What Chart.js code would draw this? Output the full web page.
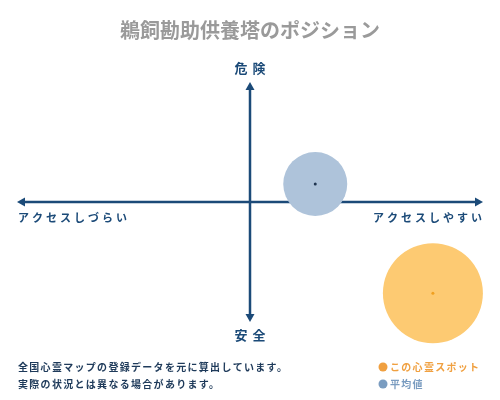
<!DOCTYPE html>
<html>
<head>
<meta charset="utf-8">
<script src="https://cdn.jsdelivr.net/npm/chart.js@4.4.0/dist/chart.umd.min.js"></script>
<style>
  html, body { margin: 0; padding: 0; background: #fff; }
  #wrap { width: 500px; height: 400px; position: relative; }
</style>
</head>
<body>
<div id="wrap"><canvas id="position"></canvas></div>
<script>
const titleText = "鵜飼勘助供養塔のポジション";
const axisLabels = { top: "危険", bottom: "安全", left: "アクセスしづらい", right: "アクセスしやすい" };
const noteLines = ["全国心霊マップの登録データを元に算出しています。", "実際の状況とは異なる場合があります。"];

const seriesNames = ["この心霊スポット", "平均値"];
const accessValues = [78.5, 28];   // x: access
const dangerValues = [-76, 15];    // y: danger
const bubbleSizes = [50, 32];

const fillColors = ["#fdca72", "#aec3da"];
const dotColors = ["#f0a020", "#1f3550"];
const legendColors = ["#f0a040", "#7a9cc0"];
const navy = "#1b4a78";
const font = '"Noto Sans CJK JP", sans-serif';

// axis lines, arrows and all text
const decor = {
  id: "decor",
  beforeDatasetsDraw(chart) {
    const { ctx, scales: { x, y } } = chart;
    const x0 = x.getPixelForValue(0), y0 = y.getPixelForValue(0);
    const l = x.getPixelForValue(-100), r = x.getPixelForValue(100);
    const t = y.getPixelForValue(100), b = y.getPixelForValue(-100);
    ctx.save();
    ctx.strokeStyle = navy;
    ctx.fillStyle = navy;
    ctx.lineWidth = 2.5;
    ctx.beginPath();
    ctx.moveTo(l + 4, y0); ctx.lineTo(r - 4, y0);
    ctx.moveTo(x0, t + 4); ctx.lineTo(x0, b - 4);
    ctx.stroke();
    const tri = (pts) => { ctx.beginPath(); ctx.moveTo(...pts[0]); ctx.lineTo(...pts[1]); ctx.lineTo(...pts[2]); ctx.closePath(); ctx.fill(); };
    tri([[l, y0], [l + 8, y0 - 4.5], [l + 8, y0 + 4.5]]);
    tri([[r, y0], [r - 8, y0 - 4.5], [r - 8, y0 + 4.5]]);
    tri([[x0, t], [x0 - 4.5, t + 8], [x0 + 4.5, t + 8]]);
    tri([[x0, b], [x0 - 4.5, b - 8], [x0 + 4.5, b - 8]]);
    ctx.restore();
  },
  afterDraw(chart) {
    const { ctx, scales: { x, y } } = chart;
    const x0 = x.getPixelForValue(0);
    const l = x.getPixelForValue(-100), r = x.getPixelForValue(100);
    const t = y.getPixelForValue(100), b = y.getPixelForValue(-100);
    const y0 = y.getPixelForValue(0);
    ctx.save();
    ctx.textBaseline = "middle";

    ctx.fillStyle = "#9a9a9a";
    ctx.font = "bold 20px " + font;
    ctx.textAlign = "center";
    ctx.letterSpacing = "0px";
    ctx.fillText(titleText, 250, 30);

    ctx.fillStyle = navy;
    ctx.font = "bold 13px " + font;
    ctx.letterSpacing = "5px";
    ctx.fillText(axisLabels.top, x0 + 2.5, t - 14);
    ctx.fillText(axisLabels.bottom, x0 + 2.5, b + 13);

    ctx.font = "bold 11px " + font;
    ctx.letterSpacing = "3px";
    ctx.textAlign = "left";
    ctx.fillText(axisLabels.left, l + 1, y0 + 16);
    ctx.textAlign = "right";
    ctx.fillText(axisLabels.right, r + 2, y0 + 16);

    ctx.fillStyle = "#1e3a5a";
    ctx.font = "bold 10px " + font;
    ctx.letterSpacing = "1.3px";
    ctx.textAlign = "left";
    noteLines.forEach((s, i) => ctx.fillText(s, 18, 367 + i * 17));

    ctx.letterSpacing = "1.3px";
    seriesNames.forEach((s, i) => {
      ctx.fillStyle = legendColors[i];
      ctx.beginPath();
      ctx.arc(383, 367 + i * 17, 4.5, 0, Math.PI * 2);
      ctx.fill();
      ctx.fillText(s, 390, 367 + i * 17);
    });
    ctx.restore();
  }
};

new Chart(document.getElementById("position"), {
  type: "bubble",
  data: {
    datasets: [
      {
        label: seriesNames[0],
        data: [{ x: accessValues[0], y: dangerValues[0], r: bubbleSizes[0] }],
        backgroundColor: fillColors[0],
        borderWidth: 0,
        clip: false
      },
      {
        label: seriesNames[1],
        data: [{ x: accessValues[1], y: dangerValues[1], r: bubbleSizes[1] }],
        backgroundColor: fillColors[1],
        borderWidth: 0,
        clip: false
      },
      {
        type: "scatter",
        label: "center",
        order: -1,
        data: accessValues.map((v, i) => ({ x: v, y: dangerValues[i] })),
        pointRadius: 1.5,
        pointBackgroundColor: dotColors,
        pointBorderWidth: 0,
        clip: false
      }
    ]
  },
  options: {
    responsive: true,
    maintainAspectRatio: false,
    animation: false,
    layout: { autoPadding: false, padding: { left: 17, right: 17, top: 82, bottom: 78 } },
    scales: {
      x: { display: false, min: -100, max: 100 },
      y: { display: false, min: -100, max: 100 }
    },
    plugins: {
      legend: { display: false },
      tooltip: { enabled: false }
    }
  },
  plugins: [decor]
});
</script>
</body>
</html>
